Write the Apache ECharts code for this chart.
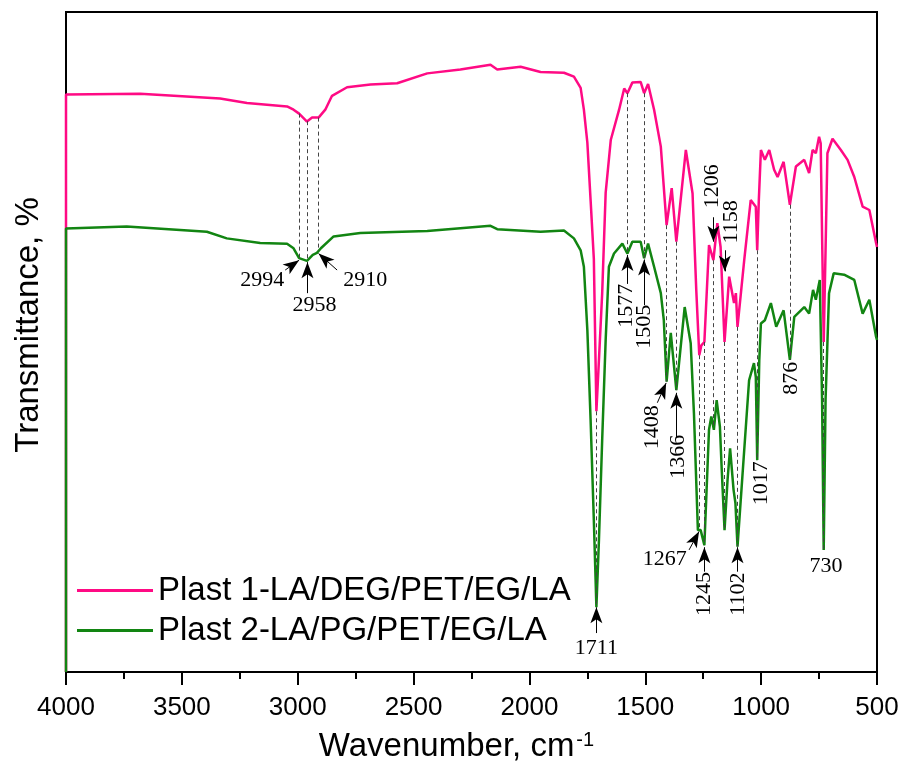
<!DOCTYPE html>
<html>
<head>
<meta charset="utf-8">
<script src="https://cdn.jsdelivr.net/npm/echarts@6/dist/echarts.min.js"></script>
<style>
  html, body { margin: 0; padding: 0; background: #fff; }
  #main { width: 901px; height: 761px; }
</style>
</head>
<body>
<div id="main"></div>
<script>
// FTIR spectra, [wavenumber, transmittance (arb.)]
const plast1 = [
  [4000, 0], [4000, 87.5], [3680, 87.6], [3335, 86.9], [3219, 86.2], [3046, 85.7],
  [3018, 85.2], [2994, 84.6], [2960, 83.4], [2938, 84.0], [2910, 84.0], [2881, 85.2],
  [2852, 87.3], [2787, 88.6], [2686, 89.0], [2571, 89.2], [2441, 90.7], [2298, 91.3],
  [2168, 92.0], [2139, 91.3], [2038, 91.7], [1952, 90.9], [1851, 90.8], [1808, 90.2],
  [1779, 88.5], [1765, 85.2], [1750, 80.2], [1736, 71.5], [1722, 62.6], [1711, 39.5],
  [1700, 47.3], [1686, 57.4], [1671, 72.6], [1649, 80.6], [1613, 85.2], [1591, 88.4],
  [1577, 87.7], [1556, 89.3], [1520, 89.4], [1505, 87.7], [1488, 89.1], [1462, 85.2],
  [1433, 79.6], [1408, 67.7], [1386, 73.3], [1366, 65.2], [1325, 79.1], [1296, 72.5],
  [1280, 57.9], [1267, 48.0], [1258, 49.5], [1245, 50.0], [1225, 64.7], [1206, 62.4],
  [1189, 68.0], [1175, 64.4], [1158, 50.0], [1138, 59.9], [1117, 55.9], [1109, 57.4],
  [1102, 52.3], [1073, 62.4], [1045, 71.5], [1023, 70.5], [1017, 63.9], [1010, 71.5],
  [1001, 79.1], [984, 77.6], [965, 79.1], [944, 76.1], [929, 75.0], [903, 77.3],
  [876, 70.8], [850, 76.6], [814, 77.6], [793, 75.6], [778, 79.1], [764, 78.6],
  [750, 81.1], [743, 80.1], [736, 63.9], [730, 50.0], [722, 63.9], [714, 78.6],
  [692, 80.8], [656, 79.1], [627, 77.6], [598, 75.0], [562, 70.5], [533, 70.0],
  [504, 65.0], [500, 64.4]
];
const plast2 = [
  [4000, 0], [4000, 67.2], [3738, 67.5], [3392, 66.7], [3306, 65.7], [3162, 65.0],
  [3046, 64.9], [3018, 64.2], [2994, 62.7], [2960, 62.3], [2935, 63.2], [2917, 63.5],
  [2900, 64.2], [2845, 66.0], [2730, 66.5], [2441, 66.8], [2168, 67.6], [2139, 67.1],
  [1952, 66.7], [1851, 66.9], [1808, 65.7], [1779, 63.9], [1765, 61.4], [1750, 51.8],
  [1736, 38.2], [1722, 23.0], [1711, 9.8], [1700, 20.0], [1686, 35.2], [1671, 50.3],
  [1657, 61.4], [1635, 63.4], [1599, 64.9], [1577, 63.4], [1556, 65.2], [1520, 65.2],
  [1505, 62.7], [1488, 64.9], [1462, 61.4], [1433, 57.4], [1420, 53.3], [1408, 44.0],
  [1390, 51.4], [1366, 42.7], [1330, 55.3], [1304, 49.8], [1290, 39.2], [1273, 21.5],
  [1261, 21.5], [1245, 19.2], [1225, 36.7], [1215, 38.7], [1204, 36.7], [1192, 41.2],
  [1178, 37.2], [1170, 30.6], [1158, 21.5], [1145, 29.1], [1134, 33.9], [1119, 27.6],
  [1111, 25.6], [1102, 19.0], [1081, 29.6], [1052, 44.2], [1031, 46.8], [1023, 44.7],
  [1017, 32.1], [1008, 47.3], [1001, 52.8], [984, 53.3], [958, 55.9], [935, 52.3],
  [903, 54.8], [876, 47.3], [857, 53.8], [814, 55.3], [793, 54.3], [776, 57.9],
  [764, 56.4], [747, 59.4], [737, 41.2], [730, 18.5], [722, 41.2], [707, 57.4],
  [687, 60.4], [642, 60.2], [598, 59.4], [562, 54.3], [533, 56.4], [504, 50.8],
  [500, 50.3]
];
const peaks = [2994, 2958, 2910, 1711, 1577, 1505, 1408, 1366, 1267, 1245, 1206, 1158, 1102, 1017, 876, 730];
const xTicks = [4000, 3500, 3000, 2500, 2000, 1500, 1000, 500];

// annotation layout: arrows [tailW, tailV, tipW, tipV], labels [text, w, v, rotate]
const arrows = [
  [3054, 60.9, 2994, 62.4], [2958, 57.4, 2958, 62.1], [2830, 60.9, 2910, 63.4],
  [1711, 5.9, 1711, 9.8], [1577, 58.8, 1577, 63.2], [1505, 55.6, 1505, 62.5],
  [1448, 40.8, 1410, 43.8], [1366, 35.6, 1366, 42.3], [1311, 18.5, 1268, 21.3],
  [1245, 15.2, 1245, 18.9], [1102, 15.2, 1102, 18.9], [1206, 68.9, 1206, 65.2],
  [1157, 63.9, 1157, 60.7]
];
const labels = [
  ['2994', 3153, 59.4, 0], ['2958', 2928, 55.5, 0], ['2910', 2708, 59.4, 0],
  ['1711', 1711, 3.6, 0], ['1577', 1582, 55.5, 90], ['1505', 1503, 52.3, 90],
  ['1206', 1213, 73.6, 90], ['1158', 1131, 68.2, 90], ['1408', 1468, 37.1, 90],
  ['1366', 1360, 32.6, 90], ['1267', 1416, 17.1, 0], ['1245', 1247, 11.8, 90],
  ['1102', 1101, 11.8, 90], ['1017', 1001, 28.6, 90], ['876', 872, 44.5, 90],
  ['730', 720, 16.1, 0]
];

function valAt(arr, w) {
  for (let i = 1; i < arr.length - 1; i++) {
    const a = arr[i], b = arr[i + 1];
    if (w <= a[0] && w >= b[0]) {
      if (a[0] === b[0]) return a[1];
      return a[1] + (b[1] - a[1]) * (a[0] - w) / (a[0] - b[0]);
    }
  }
  return null;
}

let dom = document.getElementById("main");
let myChart = echarts.init(dom, null, { renderer: "canvas" });

const sans = "Liberation Sans";
const serif = "Liberation Serif";

let option = {
  animation: false,
  grid: {
    left: 66, right: 24, top: 12, bottom: 89,
    outerBoundsMode: "none",
    containLabel: false,
    show: true, borderColor: "#000", borderWidth: 2
  },
  legend: {
    orient: "vertical",
    left: 72, top: 569,
    icon: "rect",
    itemWidth: 76, itemHeight: 3, itemGap: 7,
    textStyle: { fontFamily: sans, fontSize: 33, color: "#000" },
    data: ["Plast 1-LA/DEG/PET/EG/LA", "Plast 2-LA/PG/PET/EG/LA"]
  },
  xAxis: {
    type: "value",
    inverse: true,
    min: 500, max: 4000, interval: 500,
    axisLine: { lineStyle: { color: "#000", width: 2 } },
    axisTick: { length: 13, lineStyle: { color: "#000", width: 2 } },
    minorTick: { show: true, splitNumber: 2, length: 7, lineStyle: { color: "#000", width: 2 } },
    splitLine: { show: false },
    axisLabel: {
      fontFamily: sans, fontSize: 26, color: "#000", margin: 23,
      formatter: v => xTicks.includes(v) ? String(v) : ""
    },
    name: "{a|Wavenumber, cm}{b|-1}",
    nameLocation: "middle",
    nameGap: 58,
    nameTextStyle: {
      padding: [0, 30, 0, 0],
      rich: {
        a: { fontFamily: sans, fontSize: 33, color: "#000" },
        b: { fontFamily: sans, fontSize: 20, color: "#000", verticalAlign: "top", padding: [0, 0, 14, 2] }
      }
    }
  },
  yAxis: {
    type: "value",
    min: 0, max: 100,
    axisLine: { show: true, lineStyle: { color: "#000", width: 2 } },
    axisTick: { show: false },
    axisLabel: { show: false },
    splitLine: { show: false },
    name: "Transmittance, %",
    nameLocation: "middle",
    nameGap: 21,
    nameTextStyle: { fontFamily: sans, fontSize: 33, color: "#000", padding: [0, 0, 0, 34] }
  },
  series: [
    {
      name: "Plast 1-LA/DEG/PET/EG/LA",
      type: "line",
      data: plast1,
      symbol: "none",
      lineStyle: { color: "#ff0a84", width: 2.5 },
      itemStyle: { color: "#ff0a84" },
      z: 3,
      markLine: {
        silent: true,
        symbol: ["none", "none"],
        label: { show: false },
        lineStyle: { color: "#444", width: 1, type: [4, 3] },
        data: peaks.map(w => [{ coord: [w, valAt(plast1, w)] }, { coord: [w, valAt(plast2, w)] }])
      }
    },
    {
      name: "Plast 2-LA/PG/PET/EG/LA",
      type: "line",
      data: plast2,
      symbol: "none",
      lineStyle: { color: "#128512", width: 2.5 },
      itemStyle: { color: "#128512" },
      z: 4,
      markLine: {
        silent: true,
        symbol: ["none", "arrow"],
        symbolSize: [9, 16],
        label: { show: false },
        lineStyle: { color: "#000", width: 1, type: "solid" },
        itemStyle: { color: "#000" },
        data: arrows.map(a => [{ coord: [a[0], a[1]] }, { coord: [a[2], a[3]] }])
      },
      markPoint: {
        silent: true,
        symbol: "circle",
        symbolSize: 0,
        data: labels.map(l => ({
          name: l[0],
          coord: [l[1], l[2]],
          label: { rotate: l[3] }
        })),
        label: {
          show: true,
          position: "inside",
          formatter: p => p.name,
          fontFamily: serif,
          fontSize: 22,
          color: "#000",
          align: "center",
          verticalAlign: "middle"
        }
      }
    }
  ]
};

if (option && typeof option === "object") {
  myChart.setOption(option);
}

window.addEventListener("resize", myChart.resize);
</script>
</body>
</html>
